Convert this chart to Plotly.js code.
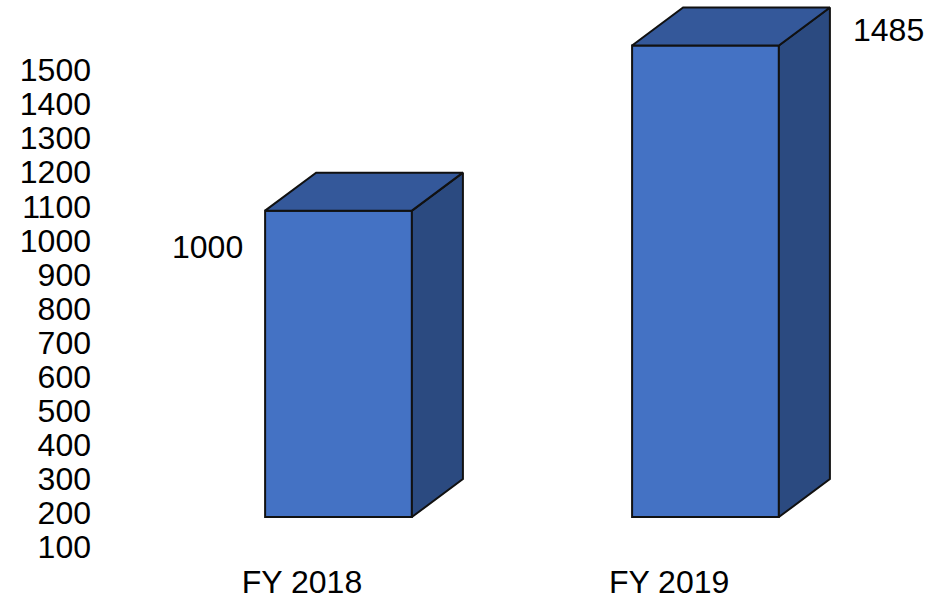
<!DOCTYPE html>
<html>
<head>
<meta charset="utf-8">
<script src="https://cdn.plot.ly/plotly-3.0.1.min.js"></script>
<style>
  html, body { margin: 0; padding: 0; background: #fff; }
  #chart { width: 951px; height: 598px; }
</style>
</head>
<body>
<div id="chart"></div>
<script>
/* pseudo-3D column chart: two fiscal years */

const CATEGORIES = ["FY 2018", "FY 2019"];
const VALUES = [1000, 1485];
const BASE_VALUE = 100; // columns start at the axis floor
const TICK_VALUES = [100, 200, 300, 400, 500, 600, 700, 800, 900, 1000, 1100, 1200, 1300, 1400, 1500];

// look of the boxes
const BAR_WIDTH = 0.4;
const DEPTH_X = 0.139;   // in category units
const DEPTH_Y = 111.6;   // in value units
const FRONT = "#4472c4";
const TOP = "#34589a";
const SIDE = "#2b4a80";
const EDGE = "#111111";
const FONT = { family: "Liberation Sans, Arial, sans-serif", size: 32, color: "#000" };

function facePolys(kind) {
  const xs = [], ys = [];
  CATEGORIES.forEach((c, i) => {
    const xl = i - BAR_WIDTH / 2, xr = i + BAR_WIDTH / 2;
    const v = VALUES[i];
    if (kind === "side") {
      xs.push(xr, xr + DEPTH_X, xr + DEPTH_X, xr, xr, null);
      ys.push(BASE_VALUE, BASE_VALUE + DEPTH_Y, v + DEPTH_Y, v, BASE_VALUE, null);
    } else {
      xs.push(xl, xl + DEPTH_X, xr + DEPTH_X, xr, xl, null);
      ys.push(v, v + DEPTH_Y, v + DEPTH_Y, v, v, null);
    }
  });
  return { xs, ys };
}

const sideFaces = facePolys("side");
const topFaces = facePolys("top");

const traces = [
  {
    type: "bar",
    x: CATEGORIES.map((c, i) => i),
    y: VALUES.map(v => v - BASE_VALUE),
    base: BASE_VALUE,
    width: BAR_WIDTH,
    xaxis: "x2", yaxis: "y2",
    marker: { color: FRONT, line: { color: EDGE, width: 2 } },
    hoverinfo: "skip"
  },
  {
    type: "scatter", mode: "lines", fill: "toself",
    x: sideFaces.xs, y: sideFaces.ys, xaxis: "x2", yaxis: "y2",
    fillcolor: SIDE, line: { color: EDGE, width: 2 },
    hoverinfo: "skip"
  },
  {
    type: "scatter", mode: "lines", fill: "toself",
    x: topFaces.xs, y: topFaces.ys, xaxis: "x2", yaxis: "y2",
    fillcolor: TOP, line: { color: EDGE, width: 2 },
    hoverinfo: "skip"
  },
  // invisible trace so the primary axes are drawn
  { type: "scatter", mode: "markers", x: [0, 1], y: [100, 1500], marker: { opacity: 0 }, hoverinfo: "skip" }
];

const layout = {
  width: 951,
  height: 598,
  margin: { l: 92, r: 0, t: 0, b: 38 },
  paper_bgcolor: "#fff",
  plot_bgcolor: "#fff",
  showlegend: false,
  font: FONT,
  xaxis: {
    range: [-0.572, 1.768],
    tickvals: [0, 1],
    ticktext: CATEGORIES,
    showgrid: false, zeroline: false, showline: false, ticks: "",
    tickfont: FONT, fixedrange: true
  },
  xaxis2: { overlaying: "x", range: [-0.6717, 1.669], visible: false },
  yaxis: {
    range: [61, 1706],
    tickvals: TICK_VALUES,
    showgrid: false, zeroline: false, showline: false, ticks: "",
    tickfont: FONT, fixedrange: true
  },
  yaxis2: { overlaying: "y", range: [-26.2, 1618.8], visible: false },
  annotations: [
    {
      xref: "x2", yref: "y2",
      x: 0 - BAR_WIDTH / 2, y: VALUES[0],
      text: String(VALUES[0]), showarrow: false,
      xanchor: "right", yanchor: "middle", xshift: -20, yshift: -36,
      font: FONT
    },
    {
      xref: "x2", yref: "y2",
      x: 1 + BAR_WIDTH / 2 + DEPTH_X, y: VALUES[1],
      text: String(VALUES[1]), showarrow: false,
      xanchor: "left", yanchor: "middle", xshift: 21, yshift: 16,
      font: FONT
    }
  ]
};

Plotly.newPlot("chart", traces, layout, { displayModeBar: false, staticPlot: true });
</script>
</body>
</html>
